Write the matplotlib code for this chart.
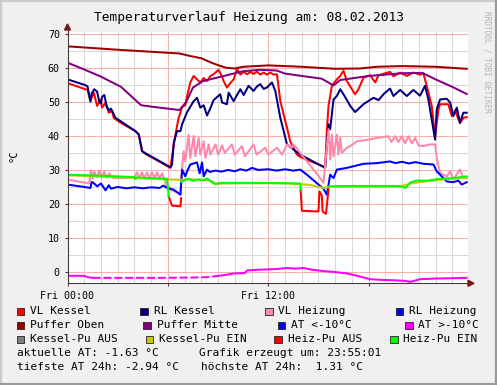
import numpy as np
import matplotlib.pyplot as plt
from matplotlib.lines import Line2D
from matplotlib.patches import Rectangle, Polygon

W, H = 497, 385
MONO = 'DejaVu Sans Mono'

# Zeit in Stunden ab Fri 00:00, Werte in °C
vl_kessel_t = [0, 1.07, 1.2, 1.37, 1.5, 1.57, 1.77, 1.97, 2.07, 2.27, 2.47, 2.67, 2.76, 3.16, 4.06, 4.26,
               4.46, 4.66, 6.15, 6.25, 6.45, 6.63, 6.85, 7.04, 7.15, 7.34, 7.54, 7.74, 7.94, 8.14, 8.34,
               8.53, 8.73, 9.03, 9.23, 9.33, 9.53, 9.73, 9.93, 10.13, 10.33, 10.53, 10.73, 10.93, 11.12,
               11.32, 11.52, 11.72, 11.92, 12.12, 12.32, 12.52, 12.72, 13.12, 13.31, 13.71, 13.91, 15.40,
               15.50, 15.60, 15.80, 16.10, 16.30, 16.50, 16.70, 17.00, 17.19, 17.39, 17.69, 18.09, 18.39,
               18.59, 19.28, 19.48, 19.88, 20.28, 20.67, 21.07, 21.27, 21.47, 21.77, 21.97, 22.17, 22.27,
               22.76, 22.97, 23.16, 23.46, 23.66, 23.86]
vl_kessel_v = [55.5, 53.7, 53.5, 50.2, 52.0, 52.7, 48.8, 50.7, 48.3, 49.8, 46.8, 47.3, 45.3, 43.9, 41.4, 40.4,
               35.5, 34.7, 30.6, 34.0, 40.4, 45.0, 48.5, 49.0, 51.7, 55.7, 57.6, 56.6, 55.7, 57.0, 56.1,
               57.5, 58.1, 59.4, 57.5, 56.1, 54.2, 55.5, 56.6, 59.6, 58.0, 58.8, 58.1, 58.8, 58.2,
               58.9, 58.0, 58.6, 58.0, 58.6, 58.0, 58.1, 50.2, 42.4, 38.4, 34.5, 33.8, 30.8,
               41.4, 48.8, 54.7, 56.6, 57.6, 59.1, 56.1, 53.7, 52.2, 53.7, 57.1, 57.8, 55.7,
               57.8, 58.8, 57.5, 58.6, 57.6, 58.6, 58.0, 58.4, 54.7, 48.8, 39.9, 47.8, 49.3,
               49.3, 45.8, 47.5, 43.7, 45.3, 45.5]

rl_kessel_t = [0, 1.07, 1.2, 1.37, 1.45, 1.6, 1.77, 1.9, 2.0, 2.07, 2.2, 2.35, 2.5, 2.6, 2.87, 4.06, 4.26,
               4.46, 4.66, 6.15, 6.25, 6.35, 6.55, 6.75, 6.85, 7.15, 7.54, 7.74, 7.94, 8.14, 8.34, 8.53,
               8.73, 9.13, 9.24, 9.53, 9.63, 9.93, 10.13, 10.33, 10.53, 10.82, 11.12, 11.32, 11.52, 11.72,
               11.92, 12.22, 12.42, 12.72, 13.12, 13.51, 13.91, 15.40, 15.60, 15.70, 15.90, 16.10, 16.30,
               16.50, 16.90, 17.19, 17.69, 18.29, 18.59, 18.88, 19.28, 19.48, 19.88, 20.28, 20.67, 21.07,
               21.37, 21.57, 21.77, 21.97, 22.07, 22.27, 22.67, 22.87, 23.06, 23.27, 23.46, 23.66, 23.86]
rl_kessel_v = [56.6, 54.9, 54.5, 50.1, 52.5, 53.7, 53.0, 50.0, 49.5, 51.5, 52.0, 48.5, 47.5, 48.0, 45.3, 41.4, 40.4,
               35.5, 34.9, 30.8, 31.6, 38.0, 41.4, 41.4, 43.4, 47.0, 50.2, 51.2, 48.3, 49.0, 46.0, 48.0,
               50.5, 52.2, 49.8, 49.3, 52.7, 50.2, 52.0, 53.7, 52.0, 54.7, 53.2, 54.5, 55.2, 53.8,
               54.2, 55.7, 53.2, 45.3, 37.5, 36.0, 34.5, 30.6, 43.4, 41.9, 50.7, 51.7, 53.7,
               52.2, 48.8, 47.0, 49.3, 51.2, 50.5, 52.2, 53.9, 51.7, 53.5, 51.7, 53.5, 51.8,
               54.7, 50.7, 44.8, 38.9, 47.8, 50.7, 50.9, 49.8, 45.8, 48.3, 43.9, 46.8, 46.8]

vl_heizung_t = [0, 1.3, 1.4, 1.5, 1.6, 1.75, 1.9, 2.05, 2.2, 2.35, 2.5, 2.7, 3.2, 4.0, 4.15, 4.3, 4.45, 4.6,
                4.75, 4.9, 5.05, 5.2, 5.35, 5.5, 5.65, 5.95, 6.15, 6.5, 6.75, 6.8, 6.94, 7.04, 7.24, 7.34,
                7.54, 7.64, 7.84, 7.94, 8.14, 8.24, 8.44, 8.54, 8.84, 9.0, 9.24, 9.4, 9.83, 10.0, 10.43,
                10.6, 11.12, 11.3, 11.82, 12.0, 12.52, 12.82, 13.12, 13.41, 13.51, 13.91, 14.31, 14.70,
                15.10, 15.30, 15.6, 15.7, 15.8, 15.9, 16.1, 16.2, 16.3, 16.4, 16.7, 16.9, 17.3, 17.89,
                18.49, 19.18, 19.35, 19.58, 19.78, 19.98, 20.18, 20.38, 20.58, 20.78, 20.98, 21.27,
                21.67, 21.97, 22.07, 22.27, 22.67, 22.87, 23.06, 23.46, 23.66, 23.86]
vl_heizung_v = [27.2, 26.0, 30.0, 27.5, 29.5, 27.8, 29.8, 27.7, 29.5, 27.7, 29.0, 27.7, 27.6, 27.8, 29.3, 27.6,
                29.3, 27.6, 29.3, 27.6, 29.3, 27.6, 29.3, 27.6, 29.0, 25.2, 24.2, 23.5, 23.0, 27.6, 35.5,
                32.5, 40.4, 33.5, 40.0, 34.0, 39.4, 34.5, 38.4, 33.5, 37.5, 34.5, 37.5, 34.5, 37.2, 35.0,
                37.5, 34.5, 37.0, 34.0, 37.5, 34.5, 36.5, 34.5, 36.5, 34.5, 37.5, 36.5, 37.5, 35.0, 32.5,
                30.1, 27.6, 26.2, 42.0, 33.0, 40.4, 34.0, 40.4, 34.5, 39.5, 35.0, 36.5, 37.0, 38.4, 38.8,
                39.4, 39.9, 38.2, 39.9, 38.2, 39.9, 37.8, 39.9, 37.8, 39.4, 37.2, 37.0, 37.5, 37.5, 33.5,
                29.1, 28.1, 29.6, 27.2, 30.1, 27.6, 27.6]

rl_heizung_t = [0, 1.0, 1.37, 1.45, 1.6, 1.77, 2.0, 2.1, 2.27, 2.47, 2.6, 3.0, 3.5, 4.0, 4.5, 5.0, 5.5, 5.73,
                5.95, 6.35, 6.75, 6.85, 7.04, 7.15, 7.34, 7.74, 7.9, 8.04, 8.14, 8.34, 8.5, 8.84, 9.2, 9.6,
                10.0, 10.33, 10.7, 11.03, 11.4, 12.0, 12.5, 13.0, 13.5, 13.91, 14.31, 15.0, 15.30, 15.50,
                15.70, 15.90, 16.10, 16.70, 17.69, 18.5, 19.28, 19.6, 20.0, 20.4, 20.8, 21.27, 21.87,
                22.07, 22.47, 22.67, 23.06, 23.36, 23.56, 23.86]
rl_heizung_v = [25.7, 25.0, 24.7, 26.5, 26.0, 25.2, 26.0, 25.3, 24.0, 25.5, 24.5, 25.0, 24.6, 24.9, 24.6, 24.9,
                24.7, 25.4, 24.7, 24.2, 22.7, 30.1, 28.1, 29.6, 31.6, 32.2, 29.0, 32.2, 28.1, 30.1, 29.4,
                29.8, 29.5, 30.0, 29.6, 30.2, 29.8, 30.6, 30.0, 30.2, 29.8, 30.2, 29.8, 30.1, 28.6, 25.7,
                24.5, 22.7, 28.6, 27.6, 30.1, 30.6, 31.8, 32.0, 32.5, 32.0, 32.4, 31.9, 32.3, 31.8, 31.6,
                29.6, 27.6, 26.6, 26.4, 26.9, 25.7, 26.4]

puffer_oben_t = [0, 3, 6.7, 7.3, 8.0, 8.6, 9.1, 9.5, 10.0, 10.5, 12, 14, 16, 17.5, 18.5, 20, 22, 23.86]
puffer_oben_v = [66.3, 65.3, 64.2, 63.5, 62.8, 61.5, 60.6, 60.0, 59.8, 60.3, 60.7, 60.3, 59.7, 59.8, 60.3,
                 60.5, 60.3, 59.7]

puffer_mitte_t = [0, 1, 2, 3.2, 4.4, 5, 6, 6.7, 7.1, 7.5, 8.1, 9.1, 10.5, 11.5, 12.5, 13, 14, 15.2, 15.9,
                  16.3, 18, 20, 21.2, 22, 23, 23.86]
puffer_mitte_v = [61.5, 59.5, 57.4, 54.4, 49.0, 48.6, 48.0, 47.6, 50.0, 54.2, 56.1, 57.3, 59.0, 59.4, 59.2,
                  58.3, 57.6, 56.8, 54.8, 56.4, 57.6, 58.4, 58.5, 56.6, 54.4, 52.3]

at_plus_t = [0, 1.0, 1.2, 1.5]
at_plus_v = [-1.1, -1.1, -1.5, -1.7]
at_plus_gap_t = [1.5, 4.0, 5.55, 7.5, 8.3, 8.9]
at_plus_gap_v = [-1.7, -1.7, -1.7, -1.6, -1.5, -1.2]
at_plus2_t = [8.9, 9.5, 9.93, 10.6, 10.75, 11.5, 12.5, 13.12, 13.6, 14.11, 14.6, 15.30, 16.0, 16.70, 17.4,
              18.09, 18.8, 19.48, 20.2, 20.48, 21.07, 22.0, 23.86]
at_plus2_v = [-1.2, -0.8, -0.4, -0.3, 0.5, 0.7, 0.9, 1.2, 1.0, 1.2, 0.7, 0.3, 0.0, -0.4, -1.2,
              -2.1, -2.3, -2.4, -2.6, -2.9, -2.1, -1.9, -1.7]

kessel_ein_t = [0, 2, 4, 6.0, 6.8, 7.2, 8.4, 8.84, 9.2, 12, 13.31, 13.91, 14.5, 15.3, 15.7, 17, 19.28,
                20.08, 20.5, 21.5, 22.27, 23.86]
kessel_ein_v = [28.4, 28.1, 27.7, 27.2, 27.1, 27.3, 27.0, 25.8, 26.0, 26.1, 26.0, 25.8, 25.6, 24.7, 25.0,
                25.1, 25.1, 25.4, 26.0, 26.7, 27.1, 27.8]

heiz_aus_t = [6.05, 6.25, 6.75, 6.79, None, 13.93, 14.01, 15.0, 15.06, 15.2, 15.25, 15.45, 15.6]
heiz_aus_v = [22.2, 19.5, 19.3, 21.7, None, 24.2, 18.0, 17.8, 23.7, 22.5, 17.8, 17.1, 24.2]

heiz_ein_t = [0, 2.0, 4.0, 4.06, 4.15, 5.0, 5.95, 6.05, None,
              6.8, 7.0, 7.24, 7.5, 7.84, 8.14, 8.34, 8.6, 8.84, 9.1, 11, 13.0, 13.91, 13.93, None,
              15.65, 17, 19.5, 20.08, 20.2, 20.48, 20.88, 21.47, 22.07, 23, 23.86]
heiz_ein_v = [28.6, 28.3, 27.9, 27.3, 27.8, 27.6, 27.4, 22.2, None,
              26.5, 27.0, 27.4, 26.8, 27.2, 27.0, 27.5, 26.6, 25.9, 26.2, 26.2, 26.1, 26.0, 24.2, None,
              25.2, 25.3, 25.3, 25.0, 24.7, 26.3, 26.9, 26.8, 27.3, 27.6, 28.1]

legend_names = ['VL Kessel', 'RL Kessel', 'VL Heizung', 'RL Heizung',
                'Puffer Oben', 'Puffer Mitte', 'AT <-10°C', 'AT >-10°C',
                'Kessel-Pu AUS', 'Kessel-Pu EIN', 'Heiz-Pu AUS', 'Heiz-Pu EIN']
legend_colors = ['#ff0000', '#000080', '#ff88aa', '#0000ff',
                 '#a00000', '#800080', '#0000ff', '#ff00ff',
                 '#808080', '#c8c800', '#ff0000', '#00ff00']
# Legendenlayout in Pixeln (Kästchen-x, Text-x, Zeilen-y)
legend_sq_x = [16.7, 140, 265, 395.7, 16.7, 143.3, 277.7, 405, 16.7, 145.7, 274.3, 390]
legend_txt_x = [30, 154, 278.3, 409.3, 30, 157.3, 291, 418.3, 30, 159.3, 288.3, 403.3]
legend_row_y = [311.3] * 4 + [325.3] * 4 + [339.3] * 4


def arr(a):
    return np.array([np.nan if x is None else x for x in a], dtype=float)


def fx(x):
    return x / W


def fy(y):
    return 1 - y / H


fig = plt.figure(figsize=(W / 100, H / 100), dpi=100, facecolor='#f0f0f0')

# Rahmen
fig.add_artist(Line2D([0, 1], [fy(0.8), fy(0.8)], color='#cbcbcb', lw=1.6))
fig.add_artist(Line2D([fx(0.8), fx(0.8)], [0, 1], color='#cbcbcb', lw=1.6))
fig.add_artist(Line2D([0, 1], [fy(384.2), fy(384.2)], color='#999999', lw=1.6))
fig.add_artist(Line2D([fx(496.2), fx(496.2)], [0, 1], color='#999999', lw=1.6))

ax_l, ax_r, ax_t, ax_b = 67.5, 467.7, 31.7, 283.3
ax = fig.add_axes([fx(ax_l), fy(ax_b), (ax_r - ax_l) / W, (ax_b - ax_t) / H])
ax.set_facecolor('white')
ax.set_xlim(0, 23.92)
ax.set_ylim(-3.3, 70.6)

ax.set_xticks([0, 6, 12, 18])
ax.set_xticklabels(['Fri 00:00', '', 'Fri 12:00', ''])
ax.set_xticks(range(24), minor=True)
ax.set_yticks(range(0, 71, 10))
ax.set_yticks(range(5, 70, 10), minor=True)
ax.grid(which='minor', color='#d9d9d9', lw=0.75)
ax.grid(which='major', color='#f5b0b0', lw=0.75)
ax.set_axisbelow(True)
axis_col = '#4a3a3a'
ax.tick_params(which='major', direction='out', length=2.5, width=0.8, color=axis_col,
               labelsize=7.2, pad=3)
ax.tick_params(which='minor', length=0)
for lab in ax.get_xticklabels() + ax.get_yticklabels():
    lab.set_family(MONO)
for s in ['top', 'right']:
    ax.spines[s].set_visible(False)
for s in ['left', 'bottom']:
    ax.spines[s].set_color(axis_col)
    ax.spines[s].set_linewidth(0.8)

lw = 1.45
ax.plot(vl_kessel_t, vl_kessel_v, color=legend_colors[0], lw=lw)
ax.plot(rl_kessel_t, rl_kessel_v, color=legend_colors[1], lw=lw)
ax.plot(vl_heizung_t, vl_heizung_v, color=legend_colors[2], lw=lw)
ax.plot(rl_heizung_t, rl_heizung_v, color=legend_colors[3], lw=lw)
ax.plot(puffer_oben_t, puffer_oben_v, color=legend_colors[4], lw=lw)
ax.plot(puffer_mitte_t, puffer_mitte_v, color=legend_colors[5], lw=lw)
ax.plot(at_plus_t, at_plus_v, color=legend_colors[7], lw=lw)
ax.plot(at_plus_gap_t, at_plus_gap_v, color=legend_colors[7], lw=lw, dashes=(4, 1.4))
ax.plot(at_plus2_t, at_plus2_v, color=legend_colors[7], lw=lw)
ax.plot(kessel_ein_t, kessel_ein_v, color=legend_colors[9], lw=lw)
ax.plot(arr(heiz_aus_t), arr(heiz_aus_v), color=legend_colors[10], lw=lw)
ax.plot(arr(heiz_ein_t), arr(heiz_ein_v), color=legend_colors[11], lw=lw)

# Achsenverlängerung mit Pfeilen
arrow_col = '#7f1010'
fig.add_artist(Line2D([fx(ax_l), fx(ax_l)], [fy(ax_t), fy(27)], color=axis_col, lw=0.8))
fig.add_artist(Line2D([fx(ax_r), fx(470)], [fy(ax_b), fy(ax_b)], color=axis_col, lw=0.8))
fig.add_artist(Polygon([[fx(64.5), fy(30)], [fx(70.5), fy(30)], [fx(67.5), fy(24)]],
                       closed=True, color=arrow_col, transform=fig.transFigure))
fig.add_artist(Polygon([[fx(468), fy(280.3)], [fx(468), fy(286.3)], [fx(474), fy(283.3)]],
                       closed=True, color=arrow_col, transform=fig.transFigure))

fig.text(fx(249), fy(17), 'Temperaturverlauf Heizung am: 08.02.2013', ha='center', va='center',
         fontsize=9.3, family=MONO)
fig.text(fx(14), fy(156), '°C', ha='center', va='center', rotation=90, fontsize=7.5, family=MONO)
fig.text(fx(487), fy(62), 'RRDTOOL / TOBI OETIKER', ha='center', va='center', rotation=270,
         fontsize=5.6, family=MONO, color='#b4b4b4')

for name, col, sx, tx, ry in zip(legend_names, legend_colors, legend_sq_x, legend_txt_x, legend_row_y):
    fig.add_artist(Rectangle((fx(sx), fy(ry + 3.8)), 7.6 / W, 7.6 / H, facecolor=col,
                             edgecolor='#222222', lw=0.6, transform=fig.transFigure))
    fig.text(fx(tx), fy(ry), name, ha='left', va='center', fontsize=8, family=MONO)

fig.text(fx(16.7), fy(353.3), 'aktuelle AT: -1.63 °C', ha='left', va='center', fontsize=8, family=MONO)
fig.text(fx(199), fy(353.3), 'Grafik erzeugt um: 23:55:01', ha='left', va='center', fontsize=8, family=MONO)
fig.text(fx(16.7), fy(367.3), 'tiefste AT 24h: -2.94 °C', ha='left', va='center', fontsize=8, family=MONO)
fig.text(fx(200.7), fy(367.3), 'höchste AT 24h:  1.31 °C', ha='left', va='center', fontsize=8, family=MONO)

fig.savefig('out.png', dpi=100, facecolor=fig.get_facecolor())
